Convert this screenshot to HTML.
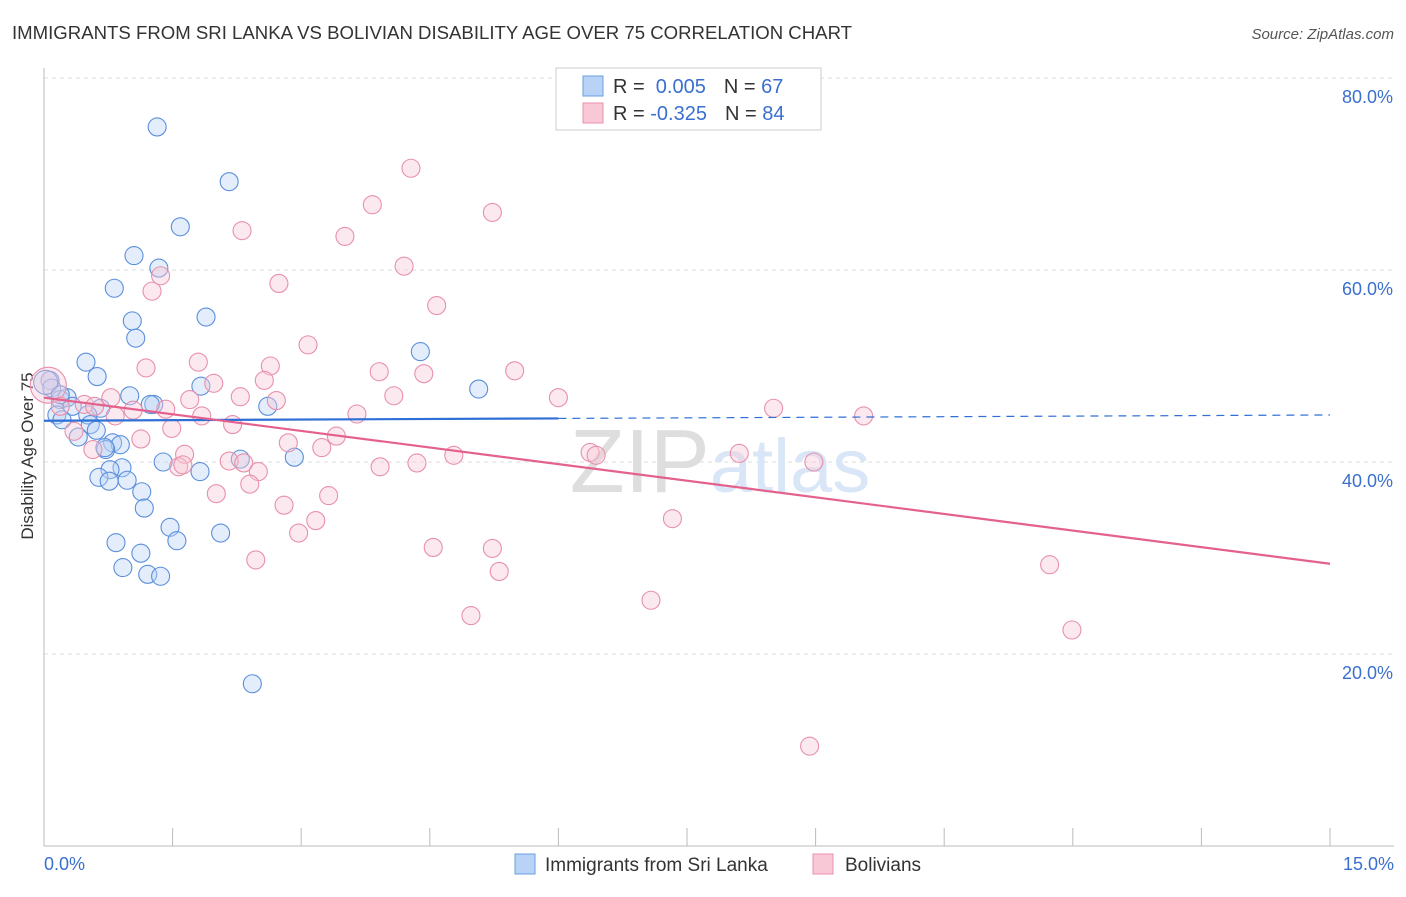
<!DOCTYPE html>
<html><head><meta charset="utf-8"><style>
body{margin:0;background:#fff;font-family:"Liberation Sans",sans-serif;}
svg text{font-family:"Liberation Sans",sans-serif;}
</style></head><body>
<svg id="chart" width="1406" height="892" xmlns="http://www.w3.org/2000/svg">
<text x="12" y="39" font-size="18.6" fill="#333">IMMIGRANTS FROM SRI LANKA VS BOLIVIAN DISABILITY AGE OVER 75 CORRELATION CHART</text>
<text x="1394" y="39" font-size="15" fill="#555" text-anchor="end" font-style="italic">Source: ZipAtlas.com</text>
<text transform="translate(33,456) rotate(-90)" font-size="17" fill="#333" text-anchor="middle">Disability Age Over 75</text>
<g id="grid"></g>
<text x="720" y="492" font-size="90" fill="#ddd" text-anchor="middle" font-family="Liberation Serif"><tspan fill="#dedede">ZIP</tspan><tspan fill="#d8e6f7" font-family="Liberation Sans" font-size="76">atlas</tspan></text>
<g id="pts"></g>
<g id="lines"></g>
<g>
<rect x="556" y="68" width="265" height="62" fill="#fff" stroke="#ccc"/>
<rect x="583" y="76" width="20" height="20" fill="#b8d3f5" stroke="#6a9ce0"/>
<rect x="583" y="103" width="20" height="20" fill="#f8c8d6" stroke="#e890ab"/>
<text x="613" y="93" font-size="20" fill="#333">R = <tspan fill="#3a6fd0">&#160;0.005</tspan><tspan dx="18">N = </tspan><tspan fill="#3a6fd0">67</tspan></text>
<text x="613" y="120" font-size="20" fill="#333">R = <tspan fill="#3a6fd0">-0.325</tspan><tspan dx="18">N = </tspan><tspan fill="#3a6fd0">84</tspan></text>
</g>
<g>
<rect x="515" y="854" width="20" height="20" fill="#b8d3f5" stroke="#6a9ce0"/>
<text x="545" y="871" font-size="19" fill="#333">Immigrants from Sri Lanka</text>
<rect x="813" y="854" width="20" height="20" fill="#f8c8d6" stroke="#e890ab"/>
<text x="845" y="871" font-size="19" fill="#333">Bolivians</text>
</g>
</svg>
<script>
const yTicks=[20,40,60,80];
const yTickLabels=["20.0%","40.0%","60.0%","80.0%"];
const xLabels=["0.0%","15.0%"];
const blueX=[1.32,2.16,1.59,1.05,1.34,0.82,1.89,1.03,1.07,0.49,4.39,0.62,5.07,1.83,0.07,0.09,1.00,1.28,1.24,2.61,0.66,0.19,0.27,0.33,0.51,0.15,0.21,0.54,0.61,0.40,0.80,0.89,0.72,0.71,1.39,2.29,2.92,0.91,0.77,1.82,0.64,0.97,0.76,1.14,1.17,1.47,2.06,1.55,0.84,1.13,0.92,1.21,1.36,2.43,0.02,0.19];
const blueY=[74.9,69.2,64.5,61.5,60.2,58.1,55.1,54.7,52.9,50.4,51.5,48.9,47.6,47.9,48.5,47.7,46.9,46.0,46.0,45.8,45.6,46.5,46.7,45.8,44.9,44.9,44.4,43.9,43.3,42.6,42.0,41.8,41.3,41.5,40.0,40.3,40.5,39.4,39.2,39.0,38.4,38.1,38.0,36.9,35.2,33.2,32.6,31.8,31.6,30.5,29.0,28.3,28.1,16.9,48.3,47.0];
const pinkX=[4.28,5.23,3.83,2.31,3.51,4.20,1.36,1.26,2.74,4.58,3.08,1.19,1.80,2.64,3.91,4.43,5.49,2.57,1.98,6.00,4.08,1.70,2.71,2.29,0.78,0.47,1.04,1.42,3.65,8.51,9.56,1.84,2.20,1.49,0.83,0.35,2.85,3.41,3.24,1.13,0.57,1.64,4.78,6.37,6.44,8.11,2.16,2.33,1.57,3.92,4.35,8.98,1.62,2.50,2.40,2.01,3.32,2.80,3.17,2.97,7.33,4.54,5.23,2.47,5.31,11.73,4.98,7.08,11.99,8.93,0.05,0.19,0.59];
const pinkY=[70.6,66.0,66.8,64.1,63.5,60.4,59.4,57.8,58.6,56.3,52.2,49.8,50.4,50.0,49.4,49.2,49.5,48.5,48.2,46.7,46.9,46.5,46.4,46.8,46.7,46.0,45.4,45.5,45.0,45.6,44.8,44.8,43.9,43.5,44.8,43.2,42.0,42.7,41.5,42.4,41.3,40.8,40.7,41.0,40.7,40.9,40.1,39.9,39.5,39.5,39.9,40.0,39.7,39.0,37.7,36.7,36.5,35.5,33.9,32.6,34.1,31.1,31.0,29.8,28.6,29.3,24.0,25.6,22.5,10.4,48.0,45.8,45.8];
const blueTrend=[44.3,44.9];
const pinkTrend=[46.7,29.4];
const NS="http://www.w3.org/2000/svg";
const X=v=>44+v/15*1286;
const Y=v=>846-v*9.6;
function mk(tag,attrs,parent){const e=document.createElementNS(NS,tag);for(const k in attrs)e.setAttribute(k,attrs[k]);parent.appendChild(e);return e;}
const grid=document.getElementById('grid');
yTicks.forEach((t,i)=>{
 const l=mk('line',{x1:44,x2:1394,y1:Y(t),y2:Y(t),stroke:'#ddd','stroke-dasharray':'4,4'},grid);
 
 
 const tx=mk('text',{x:1393,y:Y(t)+25,'font-size':18,fill:'#3a6fd0','text-anchor':'end'},grid);
 tx.textContent=yTickLabels[i];
 
 
});
const ax=mk('line',{x1:44,x2:44,y1:68,y2:846,stroke:'#bbb'},grid);


const bx=mk('line',{x1:44,x2:1394,y1:846,y2:846,stroke:'#bbb'},grid);


for(let i=1;i<=10;i++){
 const t=mk('line',{x1:X(i*1.5),x2:X(i*1.5),y1:828,y2:846,stroke:'#bbb'},grid);
 
 
}
const xl0=mk('text',{x:44,y:870,'font-size':18,fill:'#3a6fd0'},grid);xl0.textContent=xLabels[0];


const xl1=mk('text',{x:1394,y:870,'font-size':18,fill:'#3a6fd0','text-anchor':'end'},grid);xl1.textContent=xLabels[1];


const pts=document.getElementById('pts');
function series(xs,ys,fill,stroke,name){
 xs.forEach((x,i)=>{
  const big=(x<0.06);
  const c=mk('circle',{cx:X(x),cy:Y(ys[i]),r:big?(name==='bolivians-point'?18:12):9,fill:fill,'fill-opacity':0.4,stroke:stroke,'stroke-width':1.1},pts);
  
  
 });
}
series(blueX,blueY,'#b8d3f5','#5b8fdc','sri-lanka-point');
series(pinkX,pinkY,'#f8c8d6','#e890ab','bolivians-point');
const lines=document.getElementById('lines');
const bs=mk('line',{x1:X(0),y1:Y(blueTrend[0]),x2:X(6),y2:Y(blueTrend[0]+(blueTrend[1]-blueTrend[0])*6/15),stroke:'#2f6fd6','stroke-width':2.2},lines);


const bd=mk('line',{x1:X(6),y1:Y(blueTrend[0]+(blueTrend[1]-blueTrend[0])*6/15),x2:X(15),y2:Y(blueTrend[1]),stroke:'#2f6fd6','stroke-width':1.2,'stroke-dasharray':'8,6'},lines);


const pl=mk('line',{x1:X(0),y1:Y(pinkTrend[0]),x2:X(15),y2:Y(pinkTrend[1]),stroke:'#e4618e','stroke-width':2.2},lines);


</script>
</body></html>
